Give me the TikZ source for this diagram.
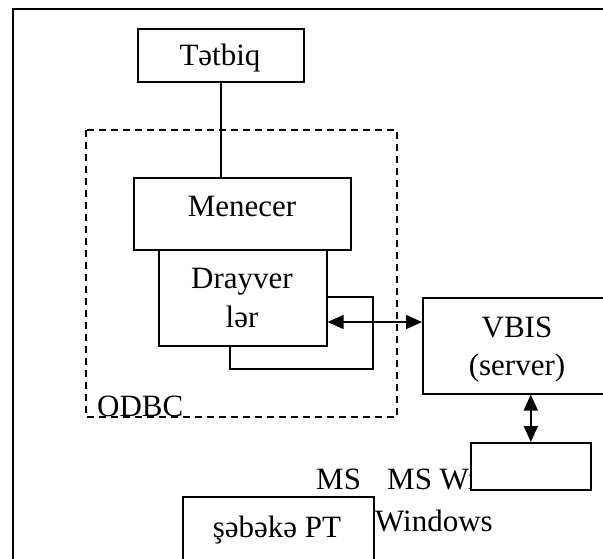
\documentclass[tikz,border=0pt]{standalone}
\usepackage{fontspec}
\setmainfont{Liberation Serif}
\usetikzlibrary{arrows.meta}
\tikzset{
  x=1pt, y=-1pt,
  every node/.style={font=\fontsize{31}{38}\selectfont},
  frameline/.style={line width=1.6pt},
  box/.style={draw, line width=1.6pt, fill=white, rectangle, inner sep=0pt,
              anchor=north west},
  groupline/.style={line width=1.4pt, dash pattern=on 7pt off 5pt},
  link/.style={line width=1.6pt},
  biarrow/.style={line width=1.6pt,
                  {Triangle[length=16pt,width=14pt]}-{Triangle[length=16pt,width=14pt]}},
  plain/.style={inner sep=0pt, anchor=base west},
  caption/.style={inner sep=0pt, anchor=base}
}
\begin{document}
\begin{tikzpicture}
\clip (0,0) rectangle (603,559);
\useasboundingbox (0,0) rectangle (603,559);

% page frame
\draw[frameline] (13,9) rectangle (620,580);

% ODBC group
\draw[groupline] (86,130) rectangle (397,417);

% application
\node[box, minimum width=166pt, minimum height=53pt] (app) at (137,28) {};
\node[caption] (apptxt) at (220,66) {Tətbiq};

% manager and drivers
\node[box, minimum width=217pt, minimum height=72pt] (mgr) at (133,177) {};
\node[caption] (mgrtxt) at (242,217) {Menecer};
\draw[link] (app.south) -- (app.south |- mgr.north);

\draw[link, fill=white] (230,297) rectangle (373,369);
\node[box, minimum width=168pt, minimum height=96pt] (drv) at (158,249) {};
\node[caption] (drvtxt1) at (242,288) {Drayver};
\node[caption] (drvtxt2) at (242,327) {lər};

\node[plain] (odbc) at (97,416) {ODBC};

% server
\node[box, minimum width=190pt, minimum height=96pt] (vbis) at (422,297) {};
\node[caption] (vbistxt1) at (517,337) {VBIS};
\node[caption] (vbistxt2) at (517,375) {(server)};
\coordinate (ay) at (0,322);
\draw[biarrow] (drv.east |- ay) -- (vbis.west |- ay);

% operating system labels
\node[plain] (ms1) at (316,489) {MS};
\node[plain] (ms2) at (387,489) {MS Windows};
\node[plain] (win) at (375,531) {Windows};

\node[box, minimum width=120pt, minimum height=47pt] (os) at (470,442) {};
\draw[biarrow] (vbis.south -| os.north) -- (os.north);

% network software
\node[box, minimum width=191pt, minimum height=100pt] (net) at (182,496) {};
\node[caption] (nettxt) at (277,537) {şəbəkə PT};
\end{tikzpicture}
\end{document}
